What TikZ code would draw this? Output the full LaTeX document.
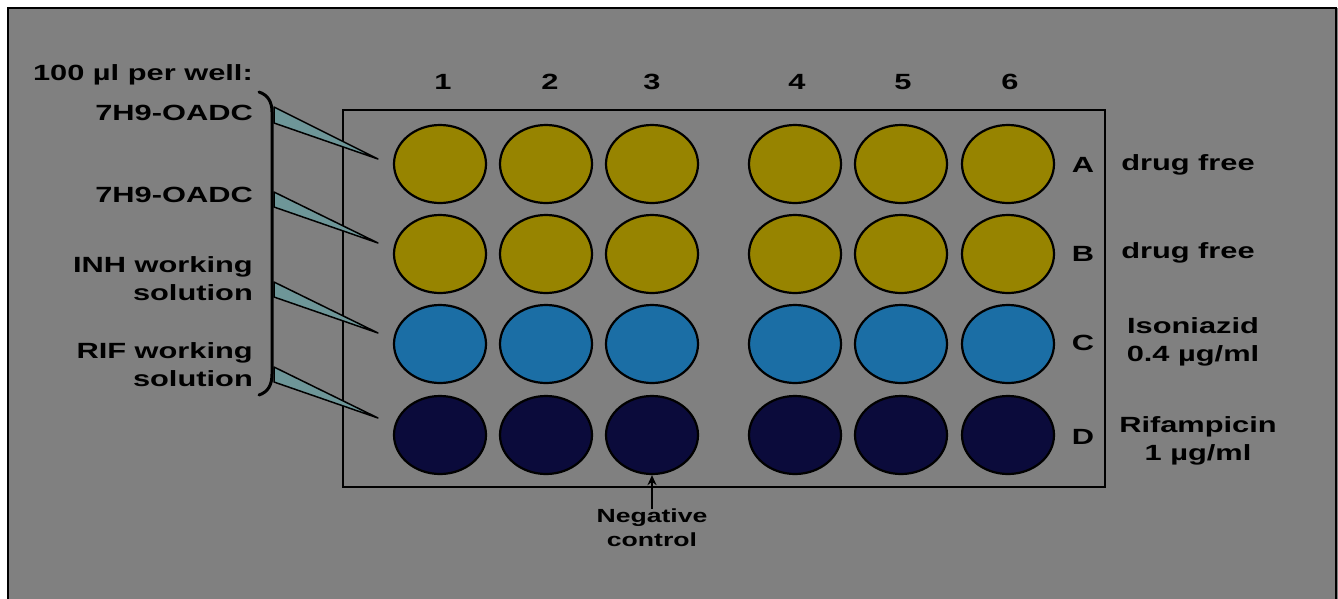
\documentclass[tikz,border=0pt]{standalone}
\usepackage{fontspec}
\setmainfont{Liberation Sans}[FakeStretch=1.4]
\usepackage{tikz}
\usepackage{xcolor}
\usetikzlibrary{shapes.geometric,arrows.meta,positioning,calc}
\definecolor{SlideGray}{HTML}{808080}
\definecolor{WellYellow}{HTML}{978400}
\definecolor{WellBlue}{HTML}{1B6EA5}
\definecolor{WellNavy}{HTML}{0B0B3B}
\definecolor{TipTeal}{HTML}{6E9698}
\tikzset{
    % Base label style
    baselabel/.style={
        text=black,
        align=center,
        inner sep=0pt,
        font=\fontsize{22}{28}\selectfont\bfseries
    },
    % Left side labels
    medialabel/.style={
        baselabel,
        align=right,
        anchor=east
    },
    % Right side labels
    druglabel/.style={
        baselabel
    },
    % Small label
    smalllabel/.style={
        baselabel,
        font=\fontsize{19}{24}\selectfont\bfseries
    },
    % Plate outline
    platebox/.style={
        draw=black,
        line width=2.2pt,
        minimum width=762pt,
        minimum height=377pt,
        inner sep=0pt
    },
    % Well style
    wellnode/.style={
        ellipse,
        draw=black,
        line width=2.2pt,
        minimum width=92pt,
        minimum height=78pt,
        inner sep=0pt
    },
    yellowwell/.style={wellnode, fill=WellYellow},
    bluewell/.style={wellnode, fill=WellBlue},
    navywell/.style={wellnode, fill=WellNavy},
    % Pipette tip
    tipshape/.style={
        fill=TipTeal,
        draw=black,
        line width=1.5pt,
        line join=round
    },
    % Arrow style
    myarrow/.style={
        -{Stealth[length=10pt,width=9pt]},
        line width=2.2pt,
        draw=black
    }
}
\begin{document}
\begin{tikzpicture}[x=1pt, y=-1pt]
        % Page and background
        \useasboundingbox (0,0) rectangle (1338,598);
        \fill[white] (0,0) rectangle (1338,598);
        \fill[SlideGray] (8,8) rectangle (1338,600);
        \draw[line width=2pt] (8,600) -- (8,8) -- (1336,8) -- (1336,600);

        % Plate
        \node[platebox] (plate) at (724,298.5) {};

        % Column numbers
        \node[baselabel] (c1) at (443,82) {1};
        \node[baselabel] (c2) at (550,82) {2};
        \node[baselabel] (c3) at (652,82) {3};
        \node[baselabel] (c4) at (797,82) {4};
        \node[baselabel] (c5) at (903,82) {5};
        \node[baselabel] (c6) at (1010,82) {6};

        % Row A
        \node[yellowwell] (a1) at (440,164) {};
        \node[yellowwell] (a2) at (546,164) {};
        \node[yellowwell] (a3) at (652,164) {};
        \node[yellowwell] (a4) at (795,164) {};
        \node[yellowwell] (a5) at (901,164) {};
        \node[yellowwell] (a6) at (1008,164) {};

        % Row B
        \node[yellowwell] (b1) at (440,254) {};
        \node[yellowwell] (b2) at (546,254) {};
        \node[yellowwell] (b3) at (652,254) {};
        \node[yellowwell] (b4) at (795,254) {};
        \node[yellowwell] (b5) at (901,254) {};
        \node[yellowwell] (b6) at (1008,254) {};

        % Row C
        \node[bluewell] (cc1) at (440,344) {};
        \node[bluewell] (cc2) at (546,344) {};
        \node[bluewell] (cc3) at (652,344) {};
        \node[bluewell] (cc4) at (795,344) {};
        \node[bluewell] (cc5) at (901,344) {};
        \node[bluewell] (cc6) at (1008,344) {};

        % Row D
        \node[navywell] (d1) at (440,435) {};
        \node[navywell] (d2) at (546,435) {};
        \node[navywell] (d3) at (652,435) {};
        \node[navywell] (d4) at (795,435) {};
        \node[navywell] (d5) at (901,435) {};
        \node[navywell] (d6) at (1008,435) {};

        % Row letters
        \node[baselabel] (ra) at (1083,165) {A};
        \node[baselabel] (rb) at (1083,254) {B};
        \node[baselabel] (rc) at (1083,343) {C};
        \node[baselabel] (rd) at (1083,437) {D};

        % Drug descriptions
        \node[druglabel] (da) at (1188,165) {drug free};
        \node[druglabel] (db) at (1188,253) {drug free};
        \node[druglabel] (dc) at (1193,341.5) {Isoniazid\\0.4 µg/ml};
        \node[druglabel] (dd) at (1198,441) {Rifampicin\\1 µg/ml};

        % Media added per row
        \node[medialabel] (head) at (253,75) {100 µl per well:};
        \node[medialabel] (ma) at (253,113) {7H9-OADC};
        \node[medialabel] (mb) at (253,195) {7H9-OADC};
        \node[medialabel] (mc) at (253,279) {INH working\\solution};
        \node[medialabel] (md) at (253,365) {RIF working\\solution};

        % Bracket
        \draw[line width=3pt, line cap=round] (259,92) .. controls (268,95) and (272,102) .. (272,112) -- (272,374) .. controls (272,385) and (268,392) .. (259,395);

        % Pipette tips
        \filldraw[tipshape] (274,107) -- (378,159) -- (274,123) -- cycle;
        \filldraw[tipshape] (274,192) -- (378,243) -- (274,207) -- cycle;
        \filldraw[tipshape] (274,282) -- (378,333) -- (274,297) -- cycle;
        \filldraw[tipshape] (274,367) -- (378,418) -- (274,382) -- cycle;

        % Negative control
        \node[smalllabel] (neg) at (652,528) {Negative\\control};
        \draw[myarrow] (neg.north) -- (d3.south);
    \end{tikzpicture}
\end{document}
